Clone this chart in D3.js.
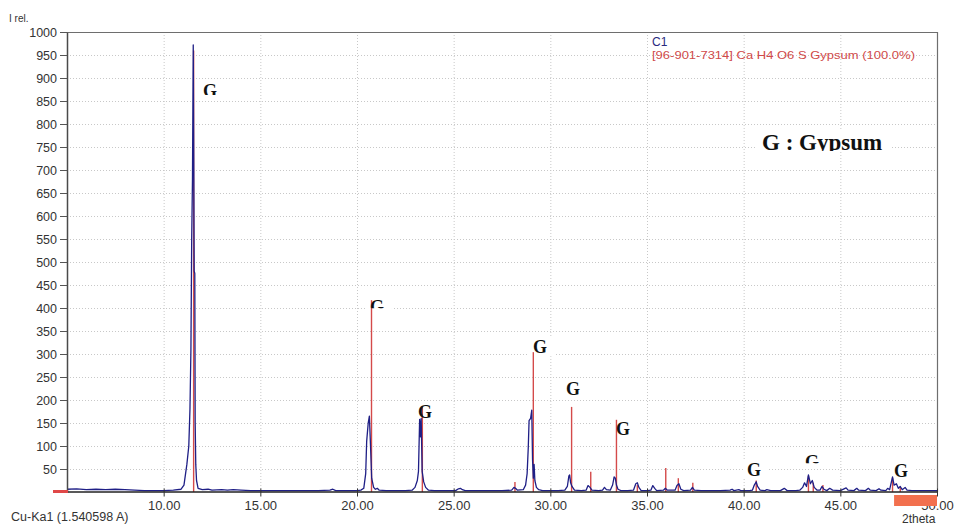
<!DOCTYPE html>
<html><head><meta charset="utf-8">
<script src="https://cdn.jsdelivr.net/npm/d3@7"></script>
<style>body{margin:0;background:#fff}svg{display:block}</style>
</head><body>
<svg id="c" width="954" height="525"></svg>
<script>
// ---- data ----
const xTicks = [10, 15, 20, 25, 30, 35, 40, 45, 50];
const yTicks = [50,100,150,200,250,300,350,400,450,500,550,600,650,700,750,800,850,900,950,1000];
const legendTitle = "C1";
const legendPhase = "[96-901-7314] Ca H4 O6 S Gypsum (100.0%)";
const phaseNote = "G : Gypsum";
// measured pattern [2theta, I rel]
const measured = [
 [5.0,6],[5.5,7],[6.0,5],[6.5,6],[7.0,5],[7.5,6],[8.0,5],[8.5,4],[9.0,3],[9.5,3],[10.0,3],[10.5,4],
 [10.9,6],[11.05,15],[11.2,60],[11.3,100],[11.36,180],[11.41,310],[11.45,550],[11.49,680],[11.53,972],
 [11.56,680],[11.58,480],[11.61,475],[11.63,150],[11.66,60],[11.7,25],[11.78,8],[12.0,5],[12.3,6],[12.5,4],
 [13.0,5],[13.3,4],[13.6,5],[14.0,4],[14.5,3],[15.0,3],[15.5,3],[16.0,3],[16.5,3],[17.0,3],[17.5,3],
 [18.0,3],[18.6,4],[18.75,6],[18.9,3],[19.5,3],[20.0,3],[20.2,4],[20.35,8],[20.45,40],[20.5,110],
 [20.58,150],[20.64,165],[20.7,100],[20.76,30],[20.8,22],[20.86,10],[20.95,6],[21.05,8],[21.15,4],
 [21.5,3],[22.0,3],[22.5,3],[22.85,4],[23.0,10],[23.12,25],[23.18,45],[23.24,158],[23.28,120],[23.32,160],
 [23.37,45],[23.45,22],[23.55,10],[23.7,4],[24.0,3],[24.5,3],[25.1,3],[25.25,7],[25.35,8],[25.45,5],
 [25.6,3],[26.0,3],[26.5,3],[27.0,3],[27.5,3],[28.0,4],[28.12,10],[28.2,8],[28.3,4],[28.6,5],[28.72,15],
 [28.8,40],[28.86,98],[28.9,155],[28.98,160],[29.04,178],[29.08,70],[29.12,30],[29.16,60],[29.2,25],
 [29.28,10],[29.4,5],[29.6,3],[30.0,3],[30.4,3],[30.75,4],[30.88,12],[30.96,35],[31.0,37],[31.05,20],
 [31.12,12],[31.25,4],[31.6,3],[31.85,4],[31.95,14],[32.05,10],[32.15,4],[32.5,3],[32.7,4],[32.8,10],
 [32.9,5],[33.1,4],[33.22,15],[33.3,33],[33.36,30],[33.42,15],[33.5,6],[33.65,3],[34.0,3],[34.3,4],
 [34.42,18],[34.5,20],[34.58,10],[34.7,3],[35.0,3],[35.2,4],[35.3,14],[35.4,8],[35.5,3],[35.85,4],
 [35.95,8],[36.05,4],[36.45,4],[36.55,14],[36.65,18],[36.75,6],[36.9,3],[37.25,4],[37.35,10],[37.45,4],
 [37.8,3],[38.3,3],[38.8,3],[39.3,4],[39.4,6],[39.5,3],[39.75,5],[39.85,3],[40.3,3],[40.45,4],[40.55,15],
 [40.65,22],[40.72,12],[40.85,4],[41.1,3],[41.2,5],[41.4,3],[41.9,3],[42.1,8],[42.25,3],[42.7,3],
 [42.9,4],[43.05,10],[43.15,20],[43.25,12],[43.35,37],[43.45,18],[43.55,25],[43.65,10],[43.8,4],
 [43.95,4],[44.05,12],[44.15,6],[44.3,3],[44.45,8],[44.6,4],[45.0,3],[45.3,9],[45.4,4],[45.7,3],
 [45.85,8],[45.95,4],[46.3,3],[46.45,8],[46.55,4],[46.85,3],[47.0,7],[47.1,4],[47.35,3],[47.45,8],
 [47.55,5],[47.7,33],[47.78,15],[47.9,18],[48.0,8],[48.1,12],[48.2,5],[48.35,10],[48.45,4],[48.7,3],
 [49.0,3],[49.5,3],[50.0,3]
];
// reference sticks (Gypsum) [2theta, I rel]
const reference = [
 [11.55,960],[20.75,417],[23.38,185],[28.17,22],[29.12,304],[31.1,185],[32.09,44],[33.42,157],
 [34.5,15],[35.97,52],[36.62,30],[37.37,20],[40.65,25],[43.35,35],[43.6,20],[44.1,15],[47.7,30],[48.1,12]
];
// phase labels [2theta, I rel at top of letter, visible px]
const labels = [
 [12.03,885,10],[20.67,417,8],[23.16,189,14],[29.1,330,14],[30.81,237,14],
 [33.4,152,14],[40.17,63,14],[43.17,80,8],[47.78,59,14]
];

// ---- drawing ----
const svg = d3.select("#c");
const L = 67, R = 937, T = 32, B = 492;
const x = d3.scaleLinear().domain([5, 50]).range([L, R]);
const y = d3.scaleLinear().domain([0, 1000]).range([B, T]);
const sans = "'Liberation Sans', Arial, sans-serif";
const serif = "'Liberation Serif', 'Times New Roman', serif";

const defs = svg.append("defs");
defs.append("clipPath").attr("id","plot").append("rect")
  .attr("x", L).attr("y", T).attr("width", R - L + 1).attr("height", B - T + 1);

// grid
const grid = svg.append("g");
grid.selectAll("line.h").data(yTicks.filter(d => d < 1000)).join("line")
  .attr("x1", L).attr("x2", R).attr("y1", d => y(d) + 0.5).attr("y2", d => y(d) + 0.5)
  .attr("stroke", "#c8c8c8").attr("stroke-dasharray", "1,2");
grid.selectAll("line.v").data(xTicks.filter(d => d < 50)).join("line")
  .attr("y1", T).attr("y2", B).attr("x1", d => x(d) + 0.5).attr("x2", d => x(d) + 0.5)
  .attr("stroke", "#c8c8c8").attr("stroke-dasharray", "1,2");

// label boxes (white, cover grid)
labels.forEach((d, i) => {
  const px = x(d[0]), py = y(d[1]);
  defs.append("clipPath").attr("id", "lc" + i).append("rect")
    .attr("x", px - 4).attr("y", py - 4).attr("width", 26).attr("height", d[2] + 4);
  svg.append("rect").attr("x", px - 4).attr("y", py - 4).attr("width", 26).attr("height", d[2] + 6)
    .attr("fill", "#fff");
});
svg.append("rect").attr("x", 756).attr("y", 130).attr("width", 136).attr("height", 22).attr("fill", "#fff");

// plot frame
svg.append("line").attr("x1", L).attr("x2", R + 1).attr("y1", T + 0.5).attr("y2", T + 0.5)
  .attr("stroke", "#6e6e6e").attr("stroke-width", 1.2);
svg.append("line").attr("x1", R + 0.5).attr("x2", R + 0.5).attr("y1", T).attr("y2", B)
  .attr("stroke", "#6e6e6e").attr("stroke-width", 1.2);

// data
const g = svg.append("g").attr("clip-path", "url(#plot)");
g.selectAll("line.ref").data(reference).join("line")
  .attr("x1", d => x(d[0])).attr("x2", d => x(d[0]))
  .attr("y1", y(0)).attr("y2", d => y(d[1]))
  .attr("stroke", "#d44a4a").attr("stroke-width", 1.4);
g.append("path").datum(measured)
  .attr("d", d3.line().x(d => x(d[0])).y(d => y(d[1])))
  .attr("fill", "none").attr("stroke", "#1f1f86").attr("stroke-width", 1.3)
  .attr("stroke-linejoin", "round");

// axes
const ya = svg.append("g").attr("transform", `translate(${L},0)`)
  .call(d3.axisLeft(y).tickValues(yTicks).tickFormat(d3.format("d"))
    .tickSize(7).tickSizeOuter(0).tickPadding(3));
ya.select(".domain").attr("stroke", "#4a4a4a").attr("stroke-width", 1.5);
ya.selectAll(".tick line").attr("stroke", "#555");
ya.selectAll("text").attr("font-family", sans).attr("font-size", 12.5).attr("fill", "#333");

const xa = svg.append("g").attr("transform", `translate(0,${B - 0.5})`)
  .call(d3.axisBottom(x).tickValues(xTicks).tickFormat(d3.format(".2f"))
    .tickSize(5).tickSizeOuter(0).tickPadding(4));
xa.select(".domain").attr("stroke", "#222").attr("stroke-width", 1.6);
xa.selectAll(".tick line").attr("stroke", "#333").attr("y1", -3);
xa.selectAll("text").attr("font-family", sans).attr("font-size", 13).attr("fill", "#333");

// red start marker at left of baseline
svg.append("line").attr("x1", 53).attr("x2", L + 1).attr("y1", B - 0.5).attr("y2", B - 0.5)
  .attr("stroke", "#e04848").attr("stroke-width", 3);

// orange range marker
svg.append("rect").attr("x", x(47.78)).attr("y", 495).attr("width", x(50) - x(47.78)).attr("height", 11)
  .attr("fill", "#f2704e");

// phase labels
labels.forEach((d, i) => {
  svg.append("text").attr("x", x(d[0])).attr("y", y(d[1]) + 12.5)
    .attr("clip-path", `url(#lc${i})`)
    .attr("font-family", serif).attr("font-weight", "bold").attr("font-size", 18).attr("fill", "#111")
    .text("G");
});
defs.append("clipPath").attr("id", "gn").append("rect")
  .attr("x", 750).attr("y", 125).attr("width", 150).attr("height", 26);
svg.append("text").attr("x", 762).attr("y", 150).attr("clip-path", "url(#gn)")
  .attr("font-family", serif).attr("font-weight", "bold").attr("font-size", 23).attr("fill", "#111")
  .text(phaseNote);

// legend
svg.append("text").attr("x", 652).attr("y", 45.5).attr("font-family", sans).attr("font-size", 12)
  .attr("fill", "#2a2a7e").text(legendTitle);
svg.append("text").attr("x", 652).attr("y", 59).attr("font-family", sans).attr("font-size", 11.5)
  .attr("textLength", 263).attr("lengthAdjust", "spacingAndGlyphs")
  .attr("fill", "#d04a4a").text(legendPhase);

// axis captions
svg.append("text").attr("x", 9).attr("y", 22).attr("font-family", sans).attr("font-size", 10)
  .attr("fill", "#333").text("I rel.");
svg.append("text").attr("x", 11).attr("y", 521).attr("font-family", sans).attr("font-size", 12.5)
  .attr("fill", "#333").text("Cu-Ka1 (1.540598 A)");
svg.append("text").attr("x", 902).attr("y", 523).attr("font-family", sans).attr("font-size", 12)
  .attr("fill", "#333").text("2theta");
</script>
</body></html>
